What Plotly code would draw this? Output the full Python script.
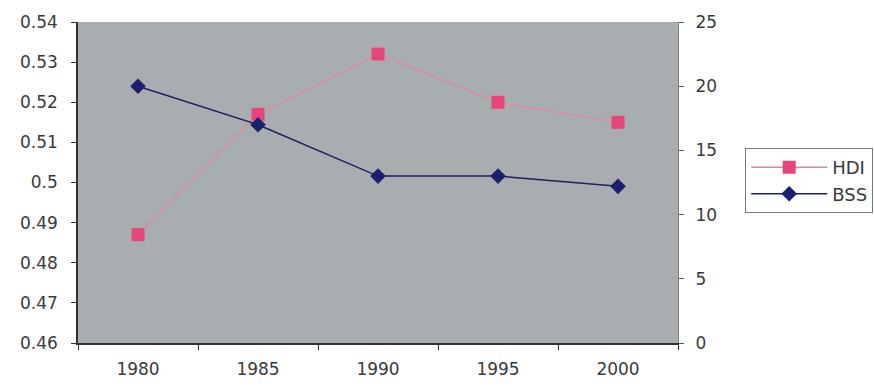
import plotly.graph_objects as go

years = ["1980", "1985", "1990", "1995", "2000"]
hdi = [0.487, 0.517, 0.532, 0.520, 0.515]
bss = [20.0, 17.0, 13.0, 13.0, 12.2]

left_ticks = [0.46, 0.47, 0.48, 0.49, 0.5, 0.51, 0.52, 0.53, 0.54]
left_labels = ["0.46", "0.47", "0.48", "0.49", "0.5", "0.51", "0.52", "0.53", "0.54"]
right_ticks = [0, 5, 10, 15, 20, 25]

font = dict(family="DejaVu Sans, Arial, sans-serif", size=17, color="#3a3a3a")

fig = go.Figure()
fig.add_trace(go.Scatter(
    x=years, y=hdi, name="HDI", mode="lines+markers",
    line=dict(color="#d98aa0", width=1.5),
    marker=dict(symbol="square", size=13, color="#e8447c"),
    yaxis="y",
))
fig.add_trace(go.Scatter(
    x=years, y=bss, name="BSS", mode="lines+markers",
    line=dict(color="#1e2060", width=1.5),
    marker=dict(symbol="diamond", size=12, color="#1c1f6e"),
    yaxis="y2",
))

fig.update_layout(
    width=874, height=386,
    margin=dict(l=78, r=196, t=22, b=43, autoexpand=False),
    paper_bgcolor="white",
    plot_bgcolor="#a8aeb0",
    font=font,
    showlegend=True,
    legend=dict(
        x=1.112, y=0.607, xanchor="left", yanchor="top",
        bordercolor="#777777", borderwidth=1, bgcolor="white",
        font=dict(family="DejaVu Sans, Arial, sans-serif", size=18, color="#3a3a3a"),
        tracegroupgap=0, itemwidth=76,
    ),
    xaxis=dict(
        type="category", range=[-0.5, 4.5], automargin=False,
        showgrid=False, zeroline=False,
        showline=True, linecolor="#333333", linewidth=1.5,
        ticks="outside", tickson="boundaries", ticklen=5, tickcolor="#333333",
        ticklabelstandoff=10,
    ),
    yaxis=dict(
        range=[0.46, 0.54], tickvals=left_ticks, ticktext=left_labels,
        automargin=False,
        showgrid=False, zeroline=False,
        showline=True, linecolor="#333333", linewidth=1.5,
        ticks="outside", ticklen=5, tickcolor="#333333",
        ticklabelstandoff=10,
    ),
    yaxis2=dict(
        range=[0, 25], tickvals=right_ticks, automargin=False,
        overlaying="y", side="right",
        showgrid=False, zeroline=False,
        showline=True, linecolor="#7a8088", linewidth=1,
        ticks="outside", ticklen=5, tickcolor="#555555",
        ticklabelstandoff=8,
    ),
)

fig.write_html("out.html")
